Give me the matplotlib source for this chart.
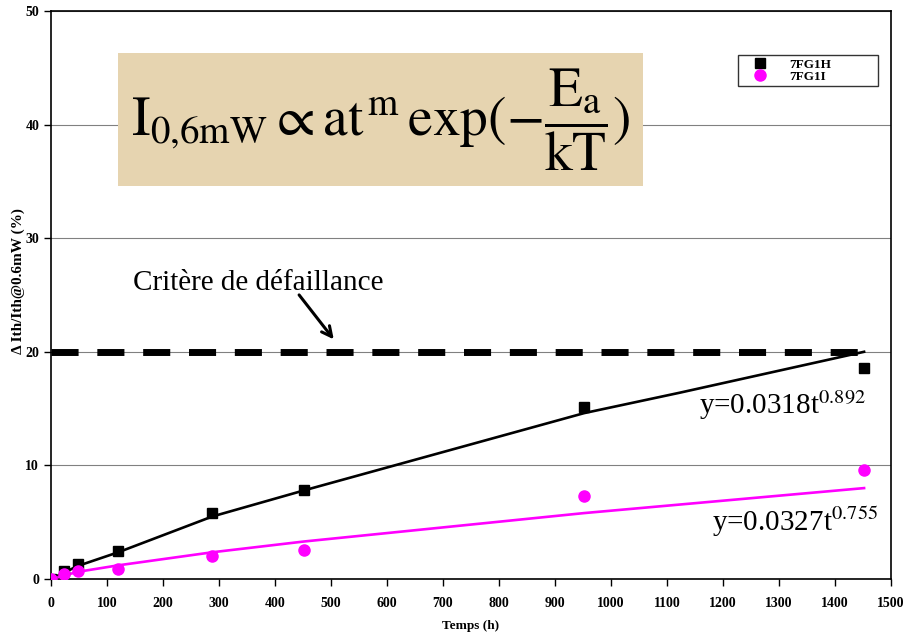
import matplotlib
matplotlib.use('Agg')
import matplotlib.pyplot as plt
from matplotlib.patches import Rectangle

plt.rcParams['font.family'] = ['Liberation Serif', 'DejaVu Serif']
plt.rcParams['mathtext.fontset'] = 'stix'

# measured data (time in hours, delta Ith in %)
temps = [0, 24, 48, 120, 288, 452, 952, 1452]
fg1h = [0, 0.7, 1.3, 2.45, 5.8, 7.8, 15.1, 18.6]
fg1i = [0, 0.4, 0.7, 0.9, 2.0, 2.55, 7.3, 9.6]

# trend lines
trend_h_t = [0, 48, 120, 288, 452, 952, 1123, 1452]
trend_h_y = [0, 1.15, 2.35, 5.5, 7.8, 14.6, 16.4, 20.0]
trend_i_t = [0, 48, 120, 288, 452, 952, 1452]
trend_i_y = [0, 0.63, 1.2, 2.35, 3.3, 5.8, 8.0]
critere = 20

fig = plt.figure(figsize=(9.06, 6.37), dpi=100)
ax = fig.add_axes([0.0563, 0.0911, 0.9271, 0.8916])

ax.plot(trend_h_t, trend_h_y, color='black', lw=1.9, zorder=3)
ax.plot(trend_i_t, trend_i_y, color='#ff00ff', lw=1.9, zorder=3)

ax.plot(temps, fg1h, 's', color='black', ms=7.5, label='7FG1H', zorder=4)
ax.plot(temps, fg1i, 'o', color='#ff00ff', ms=8, label='7FG1I', zorder=4)

# failure criterion
ax.plot([0, 1470], [critere, critere], color='black', lw=5,
        dashes=(3.9, 2.7), zorder=3)
ax.text(370, 26.05, 'Critère de défaillance', fontsize=21, ha='center', va='center')
ax.annotate('', xy=(508, 20.9), xytext=(440, 25.2),
            arrowprops=dict(arrowstyle='->', lw=2.2, color='black', mutation_scale=18))

# fit labels
ax.text(1307, 15.3, r'y=0.0318t$^{0.892}$', fontsize=21, ha='center', va='center')
ax.text(1329, 5.0, r'y=0.0327t$^{0.755}$', fontsize=21, ha='center', va='center')

# model formula box
ax.add_patch(Rectangle((120, 34.6), 937, 11.7, facecolor='#e6d4b0',
                       edgecolor='none', zorder=2))
ax.text(588, 40.4, r'$\mathrm{I_{0{,}6mW}\propto at^{\,m}\,exp(-\dfrac{E_a}{kT})}$',
        fontsize=40, ha='center', va='center', zorder=3)

ax.set_xlim(0, 1500)
ax.set_ylim(0, 50)
ax.set_xticks(range(0, 1501, 100))
ax.set_yticks(range(0, 51, 10))
ax.yaxis.grid(True, color='#808080', lw=0.8, zorder=0)
ax.set_axisbelow(True)
ax.tick_params(direction='out', length=5, width=1, labelsize=10)
ax.tick_params(axis='x', pad=8)
for lbl in ax.get_xticklabels() + ax.get_yticklabels():
    lbl.set_fontweight('bold')
for s in ax.spines.values():
    s.set_linewidth(1.2)

ax.set_xlabel('Temps (h)', fontsize=9.5, fontweight='bold')
ax.xaxis.set_label_coords(0.5, -0.073)
ax.set_ylabel('Δ Ith/Ith@0.6mW (%)', fontsize=11, fontweight='bold')
ax.yaxis.set_label_coords(-0.031, 0.525)

leg = ax.legend(loc='upper left', bbox_to_anchor=(0.8179, 0.8644, 0.1667, 0.0581),
                mode='expand', prop={'weight': 'bold', 'size': 9.5}, frameon=True,
                fancybox=False, edgecolor='black', handletextpad=0.7,
                borderpad=0.25, labelspacing=0.0, handlelength=2.9, markerscale=1.0,
                borderaxespad=0)
leg.get_frame().set_linewidth(1.0)
leg.set_zorder(5)

fig.savefig('out.png', dpi=100)
